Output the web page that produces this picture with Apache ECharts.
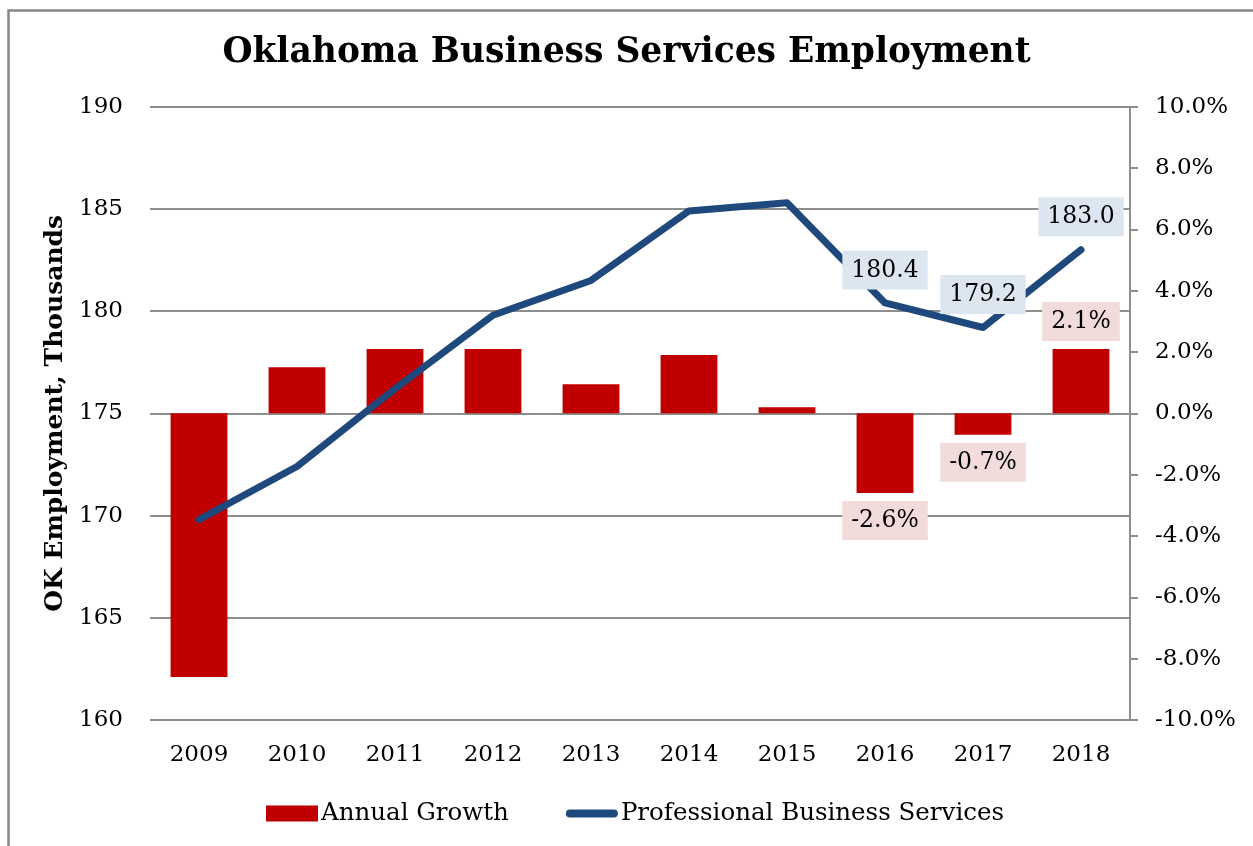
<!DOCTYPE html>
<html>
<head>
<meta charset="utf-8">
<title>Oklahoma Business Services Employment</title>
<script src="https://cdn.jsdelivr.net/npm/echarts@6/dist/echarts.min.js"></script>
<style>
  html, body { margin: 0; padding: 0; background: #ffffff; }
  #chart { width: 1253px; height: 846px; }
</style>
</head>
<body>
<div id="chart"></div>
<script>
// Years on the category axis
const years = ['2009', '2010', '2011', '2012', '2013', '2014', '2015', '2016', '2017', '2018'];
// Professional business services employment, thousands (left axis)
const employment = [169.8, 172.4, 176.2, 179.8, 181.5, 184.9, 185.3, 180.4, 179.2, 183.0];
// Year-over-year growth, percent (right axis)
const growth = [-8.6, 1.5, 2.1, 2.1, 0.95, 1.9, 0.2, -2.6, -0.7, 2.1];
// Years whose values get a boxed label
const labeledYears = ['2016', '2017', '2018'];

const FONT = '"DejaVu Serif", "Liberation Serif", serif';
const RED = '#c00000';
const BLUE = '#1f497d';
const GRID = '#8e8e8e';

const growthData = growth.map((v, i) => ({
  value: v,
  label: {
    show: labeledYears.includes(years[i]),
    position: v < 0 ? 'bottom' : 'top'
  }
}));

const employmentData = employment.map((v, i) => ({
  value: v,
  label: { show: labeledYears.includes(years[i]) }
}));

const chart = echarts.init(document.getElementById('chart'), null, { renderer: 'canvas' });

chart.setOption({
  animation: false,
  backgroundColor: '#ffffff',
  textStyle: { fontFamily: FONT, color: '#000' },
  title: {
    text: 'Oklahoma Business Services Employment',
    left: 'center',
    top: 31,
    textStyle: { fontFamily: FONT, fontSize: 34.5, fontWeight: 'bold', color: '#000' }
  },
  graphic: [{
    type: 'rect',
    left: 6, top: 8,
    shape: { x: 0, y: 0, width: 1260, height: 850 },
    style: { fill: 'none', stroke: '#888888', lineWidth: 2.5 },
    silent: true, z: -1
  }],
  legend: {
    left: 261,
    top: 796,
    itemWidth: 52,
    itemHeight: 16,
    itemGap: 57,
    itemStyle: { borderWidth: 0 },
    textStyle: { fontFamily: FONT, fontSize: 24.5, color: '#000', padding: [0, 0, 0, -2] },
    data: [
      { name: 'Annual Growth', icon: 'rect' },
      { name: 'Professional Business Services', icon: 'path://M4,0H48A4,4,0,0,1,48,8H4A4,4,0,0,1,4,0Z' }
    ]
  },
  grid: { left: 150, right: 123, top: 106.7, bottom: 126, containLabel: false },
  xAxis: {
    type: 'category',
    data: years,
    axisLine: { show: false },
    axisTick: { show: false },
    axisLabel: { fontFamily: FONT, fontSize: 23, color: '#000', margin: 24 }
  },
  yAxis: [
    {
      type: 'value',
      min: 160, max: 190, interval: 5,
      name: 'OK Employment, Thousands',
      nameLocation: 'middle',
      nameGap: 77,
      nameTextStyle: { fontFamily: FONT, fontSize: 25, fontWeight: 'bold', color: '#000' },
      axisLine: { show: false },
      axisTick: { show: false },
      axisLabel: { fontFamily: FONT, fontSize: 23, color: '#000', margin: 27 },
      splitLine: { show: true, lineStyle: { color: GRID, width: 2 } }
    },
    {
      type: 'value',
      position: 'right',
      min: -10, max: 10, interval: 2,
      axisLine: { show: true, lineStyle: { color: GRID, width: 2 } },
      axisTick: { show: true, inside: false, length: 8, lineStyle: { color: GRID, width: 2 } },
      axisLabel: {
        fontFamily: FONT, fontSize: 23, color: '#000', margin: 25,
        formatter: v => v.toFixed(1) + '%'
      },
      splitLine: { show: false }
    }
  ],
  series: [
    {
      name: 'Annual Growth',
      type: 'bar',
      yAxisIndex: 1,
      barWidth: '58%',
      data: growthData,
      itemStyle: { color: RED },
      label: {
        distance: 8,
        fontFamily: FONT,
        fontSize: 23.5,
        color: '#000',
        backgroundColor: '#f2dcdb',
        padding: [8, 9, 7, 9],
        formatter: p => p.value.toFixed(1) + '%'
      },
      z: 2
    },
    {
      name: 'Professional Business Services',
      type: 'line',
      yAxisIndex: 0,
      data: employmentData,
      showSymbol: true,
      symbol: 'circle',
      symbolSize: 1,
      itemStyle: { color: BLUE },
      lineStyle: { color: BLUE, width: 7, cap: 'round', join: 'round' },
      label: {
        position: 'top',
        distance: 13,
        fontFamily: FONT,
        fontSize: 23.5,
        color: '#000',
        backgroundColor: '#dce6f1',
        padding: [8, 9, 7, 9],
        formatter: p => p.value.toFixed(1)
      },
      z: 3
    }
  ]
});
</script>
</body>
</html>
